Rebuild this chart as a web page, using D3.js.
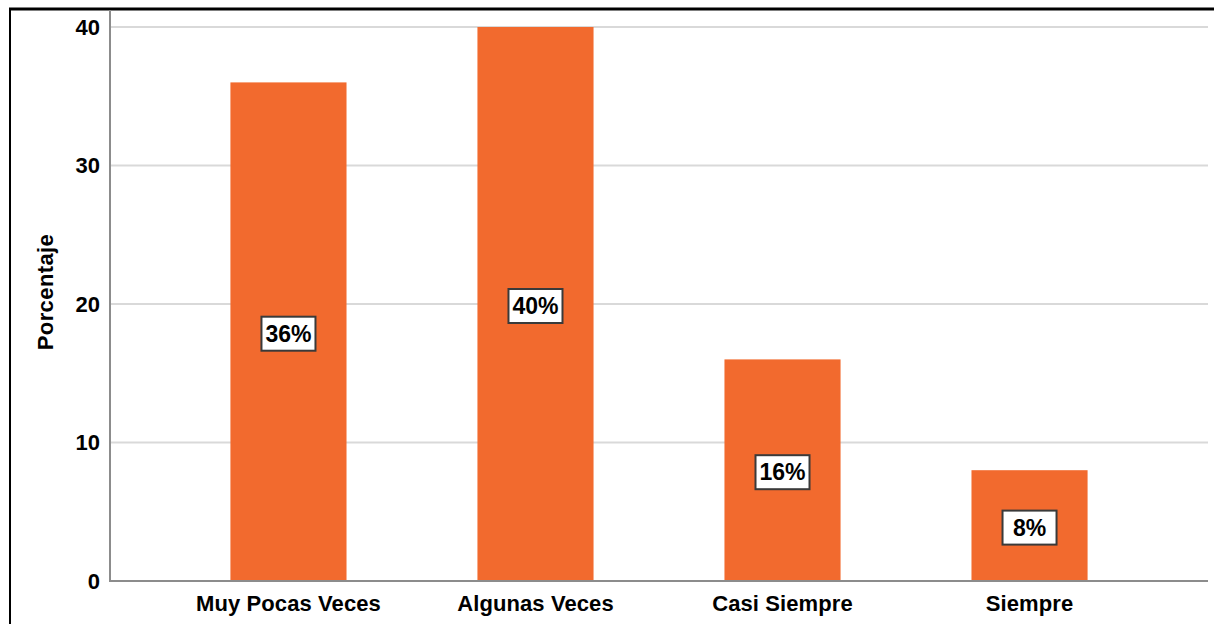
<!DOCTYPE html>
<html>
<head>
<meta charset="utf-8">
<script src="https://cdn.jsdelivr.net/npm/d3@7"></script>
<style>
  html, body { margin: 0; padding: 0; background: #fff; }
  svg { display: block; font-family: "Liberation Sans", Arial, sans-serif; }
</style>
</head>
<body>
<svg id="chart" width="1214" height="624"></svg>
<script>
// Response categories and their percentages
const categories = ["Muy Pocas Veces", "Algunas Veces", "Casi Siempre", "Siempre"];
const values = [36, 40, 16, 8];
const yTicks = [0, 10, 20, 30, 40];
const valueLabels = ["36%", "40%", "16%", "8%"];

const svg = d3.select("#chart");
const W = 1214, H = 624;
const plot = { left: 110, right: 1208, top: 27, bottom: 581 };

const x = d3.scaleBand()
  .domain(categories)
  .range([plot.left, plot.right])
  .paddingInner(0.53)
  .paddingOuter(0.4875);

const y = d3.scaleLinear()
  .domain([0, 40])
  .range([plot.bottom, plot.top]);

// Outer frame (top and left edges)
svg.append("line").attr("x1", 9).attr("x2", W).attr("y1", 9).attr("y2", 9)
  .attr("stroke", "#000").attr("stroke-width", 3);
svg.append("line").attr("x1", 10).attr("x2", 10).attr("y1", 8).attr("y2", H)
  .attr("stroke", "#000").attr("stroke-width", 2);

// Horizontal gridlines
svg.append("g")
  .selectAll("line")
  .data(yTicks.filter(d => d > 0))
  .join("line")
  .attr("x1", plot.left).attr("x2", plot.right)
  .attr("y1", d => y(d)).attr("y2", d => y(d))
  .attr("stroke", "#d9d9d9").attr("stroke-width", 2);

// Bars
svg.append("g")
  .selectAll("rect")
  .data(values)
  .join("rect")
  .attr("x", (d, i) => x(categories[i]))
  .attr("width", x.bandwidth())
  .attr("y", d => y(d))
  .attr("height", d => y(0) - y(d))
  .attr("fill", "#f26a2e");

// Axis lines
svg.append("line").attr("x1", plot.left).attr("x2", plot.left)
  .attr("y1", 10).attr("y2", plot.bottom + 1)
  .attr("stroke", "#8c8c8c").attr("stroke-width", 2);
svg.append("line").attr("x1", plot.left - 1).attr("x2", plot.right)
  .attr("y1", plot.bottom).attr("y2", plot.bottom)
  .attr("stroke", "#8c8c8c").attr("stroke-width", 2);

// Y axis tick labels
const yAxis = d3.axisLeft(y).tickValues(yTicks).tickSize(0).tickPadding(10);
const gy = svg.append("g").attr("transform", `translate(${plot.left},0)`).call(yAxis);
gy.select(".domain").remove();
gy.selectAll("text")
  .attr("font-size", 22).attr("font-weight", "bold").attr("fill", "#000")
  .attr("font-family", "'Liberation Sans', Arial, sans-serif");

// X axis category labels
const xAxis = d3.axisBottom(x).tickSize(0).tickPadding(14);
const gx = svg.append("g").attr("transform", `translate(0,${plot.bottom})`).call(xAxis);
gx.select(".domain").remove();
gx.selectAll("text")
  .attr("font-size", 22).attr("font-weight", "bold").attr("fill", "#000")
  .attr("letter-spacing", 0.1)
  .attr("font-family", "'Liberation Sans', Arial, sans-serif");

// Y axis title
svg.append("text")
  .attr("transform", `translate(53,${(232 + 352) / 2}) rotate(-90)`)
  .attr("text-anchor", "middle")
  .attr("font-size", 22).attr("font-weight", "bold")
  .attr("letter-spacing", 0.4)
  .text("Porcentaje");

// Value labels in boxes at the middle of each bar
const lbl = svg.append("g")
  .selectAll("g")
  .data(values)
  .join("g")
  .attr("transform", (d, i) =>
    `translate(${x(categories[i]) + x.bandwidth() / 2},${(y(d) + y(0)) / 2 + 2})`);

lbl.append("rect")
  .attr("x", -27).attr("y", -17)
  .attr("width", 54).attr("height", 34)
  .attr("fill", "#fff").attr("stroke", "#3a3a3a").attr("stroke-width", 2);

lbl.append("text")
  .attr("text-anchor", "middle")
  .attr("dy", "0.36em")
  .attr("font-size", 23).attr("font-weight", "bold")
  .text((d, i) => valueLabels[i]);
</script>
</body>
</html>
